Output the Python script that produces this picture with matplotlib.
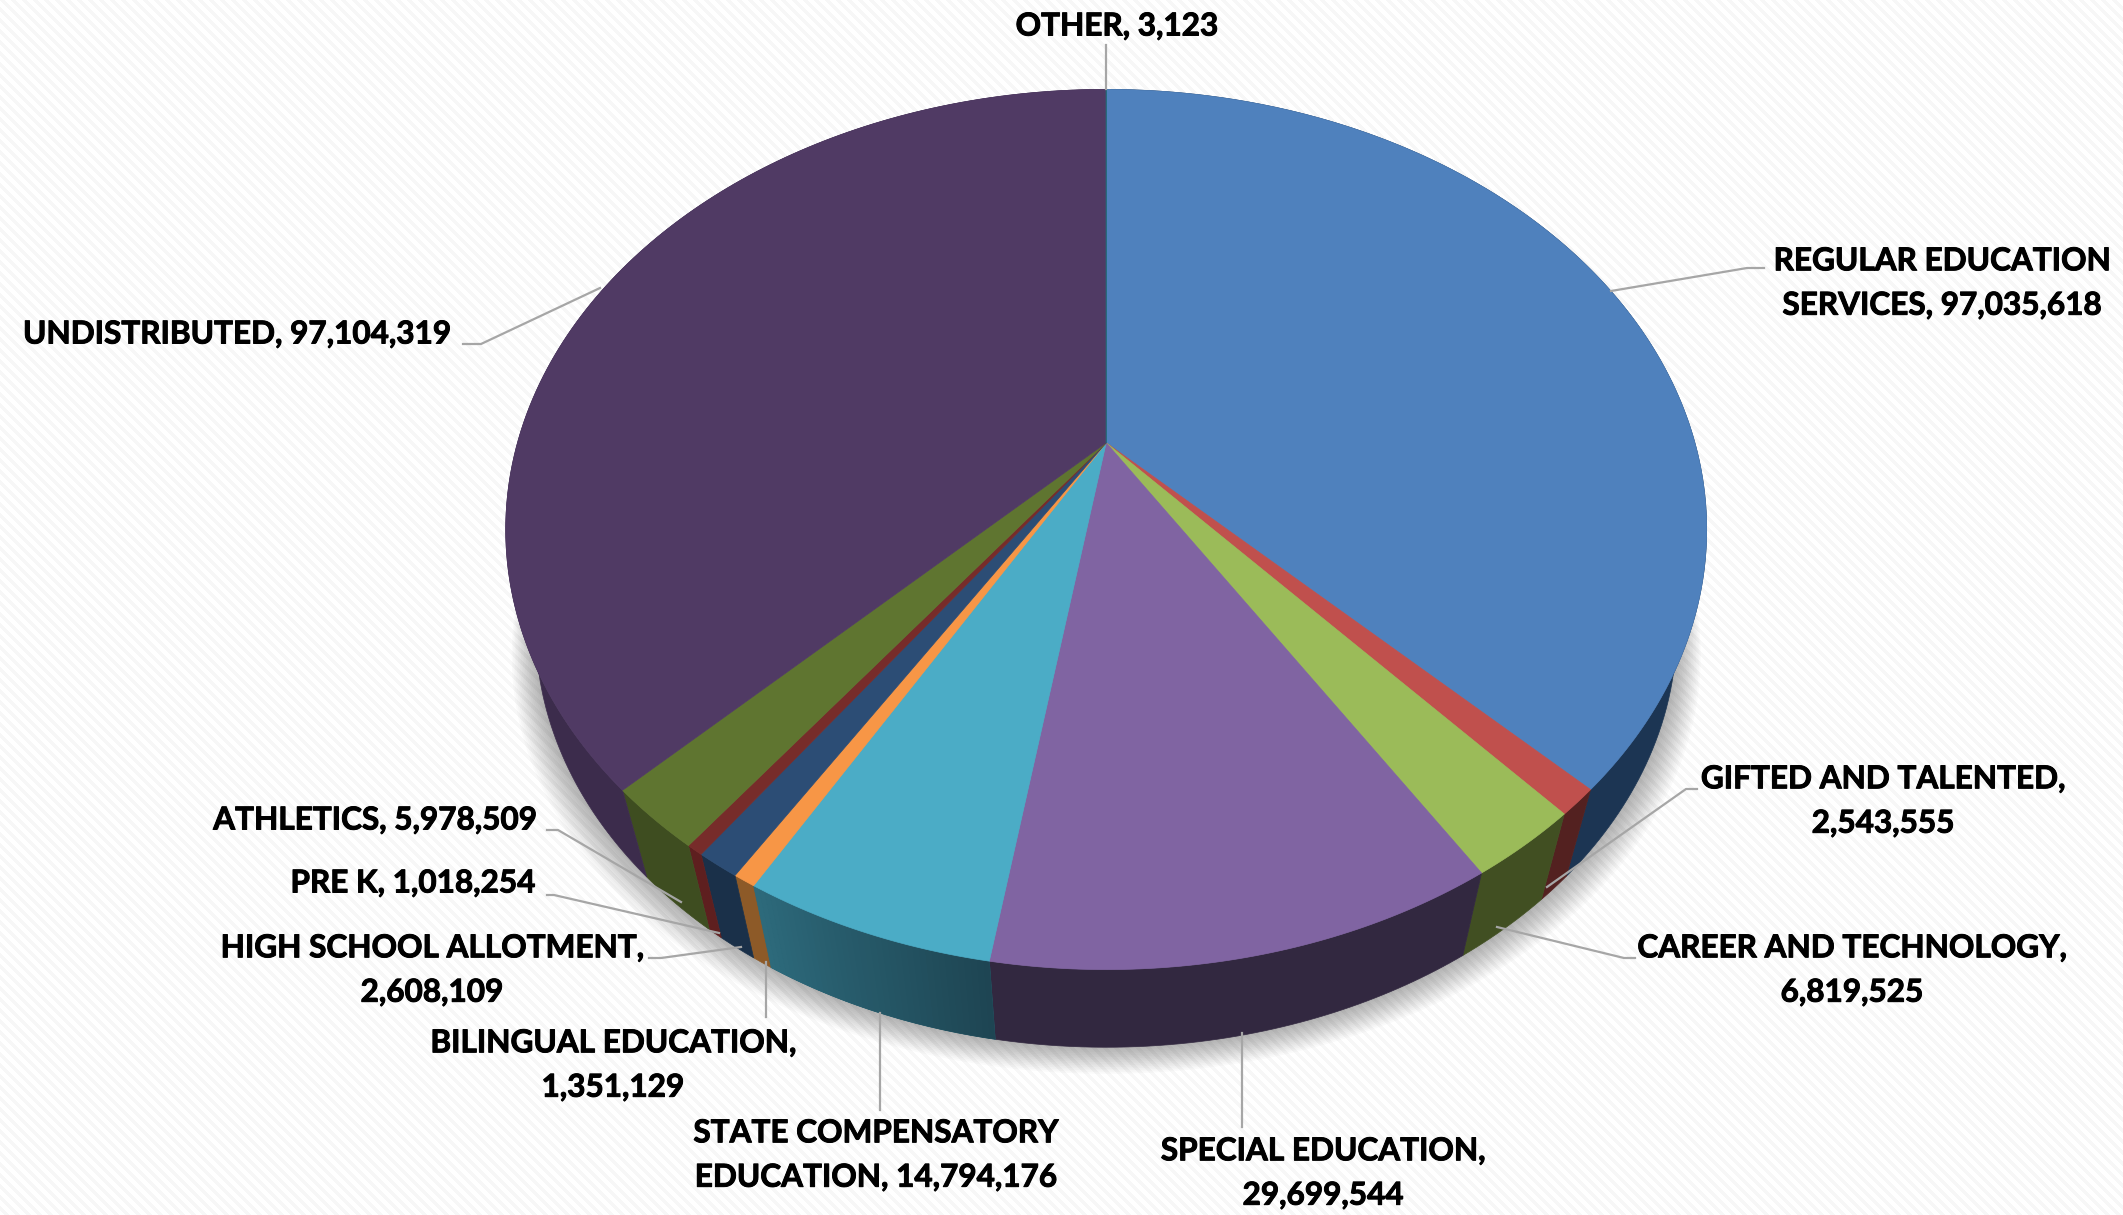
"""3D budget pie, tilted with a simple perspective projection."""

import numpy as np
import matplotlib
matplotlib.use("Agg")
import matplotlib.pyplot as plt
import matplotlib.patheffects as pe
from matplotlib.colors import to_rgb

labels = [
    "REGULAR EDUCATION\nSERVICES, 97,035,618",
    "GIFTED AND TALENTED,\n2,543,555",
    "CAREER AND TECHNOLOGY,\n6,819,525",
    "SPECIAL EDUCATION,\n29,699,544",
    "STATE COMPENSATORY\nEDUCATION, 14,794,176",
    "BILINGUAL EDUCATION,\n1,351,129",
    "HIGH SCHOOL ALLOTMENT,\n2,608,109",
    "PRE K, 1,018,254",
    "ATHLETICS, 5,978,509",
    "UNDISTRIBUTED, 97,104,319",
    "OTHER, 3,123",
]
values = [
    97035618, 2543555, 6819525, 29699544, 14794176, 1351129,
    2608109, 1018254, 5978509, 97104319, 3123,
]
top_colors = [
    "#4f81bd", "#c0504d", "#9bbb59", "#8064a2", "#4bacc6", "#f79646",
    "#2c4d75", "#772c2a", "#5f7530", "#503a64", "#276a7c",
]
wall_colors = [
    "#1c3553", "#532120", "#414f22", "#322840", "#2b6677", "#8d5a28",
    "#1a3049", "#5e1f1f", "#3e4d20", "#3c2c4c", "#1a4754",
]

# label centres and leader lines, in pixels of the finished picture
label_pos = [
    (1942, 283), (1883, 801), (1852, 970), (1323, 1173), (876, 1155), (613, 1065),
    (432, 970), (413, 883), (375, 820), (237, 334), (1117, 26),
]
leaders = [
    [(1611, 291), (1747, 268), (1764, 268)],
    [(1547, 887), (1686, 789), (1697, 789)],
    [(1497, 927), (1624, 958), (1635, 958)],
    [(1242, 1033), (1242, 1127)],
    [(880, 1013), (880, 1110)],
    [(766, 962), (766, 1017)],
    [(741, 947), (661, 958), (649, 958)],
    [(719, 933), (554, 895), (547, 895)],
    [(681, 902), (558, 830), (547, 830)],
    [(600, 288), (481, 344), (463, 344)],
    [(1106, 89), (1106, 45)],
]

WIDTH, HEIGHT = 2123, 1215
APEX_X, APEX_Y = 1106.2, 442.8
RADIUS_X, RADIUS_Y, TILT = 588.7, 423.0, 0.197
WALL_SHRINK, WALL_DROP = 0.95, 104.0


def project(theta, bottom=False):
    """Map clockwise-from-top angles on the unit circle to picture pixels."""
    x, y = np.sin(theta), np.cos(theta)
    u = RADIUS_X * x / (1 + TILT * y)
    v = RADIUS_Y * y / (1 + TILT * y)
    if bottom:
        u, v = u * WALL_SHRINK, v * WALL_SHRINK - WALL_DROP
    return APEX_X + u, APEX_Y - v


fig = plt.figure(figsize=(WIDTH / 100, HEIGHT / 100), dpi=100)
ax = fig.add_axes([0, 0, 1, 1])

# faint diagonal weave behind everything
yy, xx = np.mgrid[0:HEIGHT, 0:WIDTH]
stripes = np.where((xx - yy) % 11 < 5, 0.968, 1.0)
ax.imshow(stripes, cmap="gray", vmin=0, vmax=1, extent=(0, WIDTH, HEIGHT, 0),
          interpolation="nearest", aspect="auto", zorder=0)

edges = 2 * np.pi * np.concatenate([[0], np.cumsum(values)]) / np.sum(values)

# soft shadow under the rim
circle = np.linspace(0, 2 * np.pi, 360)
rim_x, rim_y = project(circle, bottom=True)
for grow in np.linspace(38, 2, 16):
    ax.fill(APEX_X + (rim_x - APEX_X) * (1 + grow / 900), rim_y + grow * 0.7,
            color="black", alpha=0.02, lw=0, zorder=1)

# side walls first, then the top face over them
for start, stop, wall in zip(edges[:-1], edges[1:], wall_colors):
    theta = np.linspace(start, stop, max(3, int((stop - start) * 90)))
    tx, ty = project(theta)
    bx, by = project(theta, bottom=True)
    ax.fill(np.r_[tx, bx[::-1]], np.r_[ty, by[::-1]], color=wall, lw=0.5, zorder=2)

# the state compensatory wall gets darker towards the front
state = 4
theta = np.linspace(edges[state], edges[state + 1], 40)
for i in range(len(theta) - 1):
    mix = i / (len(theta) - 2)
    shade = mix * np.array(to_rgb("#2d6a7b")) + (1 - mix) * np.array(to_rgb("#1e4553"))
    piece = theta[i:i + 2]
    tx, ty = project(piece)
    bx, by = project(piece, bottom=True)
    ax.fill(np.r_[tx, bx[::-1]], np.r_[ty, by[::-1]], color=shade, lw=0.5, zorder=2.1)

for start, stop, color in zip(edges[:-1], edges[1:], top_colors):
    theta = np.linspace(start, stop, max(3, int((stop - start) * 90)))
    tx, ty = project(theta)
    ax.fill(np.r_[APEX_X, tx], np.r_[APEX_Y, ty], color=color, lw=0.5, zorder=3)

for points in leaders:
    xs, ys = zip(*points)
    ax.plot(xs, ys, color="#a6a6a6", lw=1.6, zorder=4)

for text, (x, y) in zip(labels, label_pos):
    ax.text(x, y, text, ha="center", va="center", multialignment="center",
            family="Lato", weight="bold", fontsize=22.7, linespacing=1.64,
            color="black", zorder=5,
            path_effects=[pe.withStroke(linewidth=0.7, foreground="black")])

ax.set_xlim(0, WIDTH)
ax.set_ylim(HEIGHT, 0)
ax.axis("off")
fig.savefig("out.png", dpi=100)
plt.close(fig)
